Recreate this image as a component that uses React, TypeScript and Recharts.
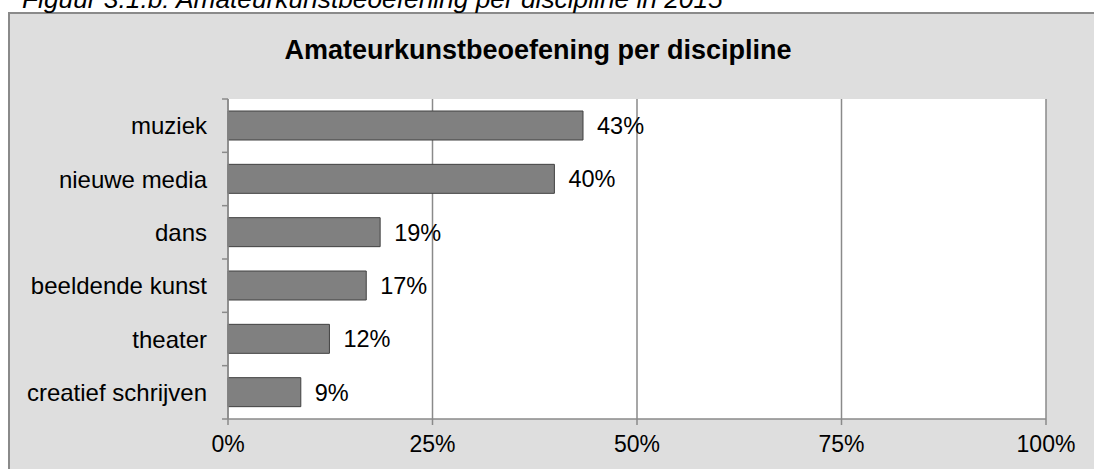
import React from 'react';
import { BarChart, Bar, XAxis, YAxis, CartesianGrid, LabelList } from 'recharts';

const categories = ['muziek', 'nieuwe media', 'dans', 'beeldende kunst', 'theater', 'creatief schrijven'];
const values = [43.4, 39.9, 18.6, 16.9, 12.4, 8.9];
const xTicks = [0, 25, 50, 75, 100];
const caption = 'Figuur 3.1.b: Amateurkunstbeoefening per discipline in 2015';
const title = 'Amateurkunstbeoefening per discipline';

const data = categories.map((name, i) => ({ name, value: values[i] }));

const FONT = '"Liberation Sans", Arial, sans-serif';
const CHART_W = 1086;
const CHART_H = 456;
const MARGIN = { top: 86, right: 48, bottom: 0, left: 0 };
const Y_W = 220;
const X_H = 50;
const PLOT_H = CHART_H - MARGIN.top - MARGIN.bottom - X_H;
const BAND = PLOT_H / categories.length;
const TICK_SIZE = 6;
const TICK_MARGIN = 15;
const AXIS_COLOR = '#8a8a8a';

const YTick = (props: any) => {
  const { x, y, payload, index } = props;
  const axisX = x + TICK_MARGIN + TICK_SIZE;
  const half = BAND / 2;
  return (
    <g>
      <text x={x} y={y} dy="0.355em" textAnchor="end" fill="#000" fontSize={24} fontFamily={FONT}>
        {payload.value}
      </text>
      <line x1={axisX - TICK_SIZE} x2={axisX} y1={y - half} y2={y - half} stroke={AXIS_COLOR} strokeWidth={1.5} />
      {index === categories.length - 1 && (
        <line x1={axisX - TICK_SIZE} x2={axisX} y1={y + half} y2={y + half} stroke={AXIS_COLOR} strokeWidth={1.5} />
      )}
    </g>
  );
};

export default function App() {
  return (
    <div style={{ position: 'fixed', left: 0, top: 0, width: 1094, height: 469, overflow: 'hidden', background: '#fff' }}>
      <svg width={1094} height={469} style={{ position: 'absolute', left: 0, top: 0 }}>
        <rect x={9} y={13} width={1100} height={470} fill="#dedede" stroke={AXIS_COLOR} strokeWidth={2} />
        <text x={22} y={8} fontSize={26.3} fontStyle="italic" fontFamily={FONT} fill="#000">
          {caption}
        </text>
        <text x={538} y={59} fontSize={27} fontWeight="bold" textAnchor="middle" fontFamily={FONT} fill="#000">
          {title}
        </text>
      </svg>
      <div style={{ position: 'absolute', left: 8, top: 13 }}>
        <BarChart width={CHART_W} height={CHART_H} data={data} layout="vertical" margin={MARGIN}>
          <CartesianGrid horizontal={false} vertical={true} stroke={AXIS_COLOR} strokeWidth={1.5} fill="#fff" />
          <XAxis
            type="number"
            domain={[0, 100]}
            ticks={xTicks}
            interval={0}
            height={X_H}
            tickFormatter={(v: number) => `${v}%`}
            axisLine={{ stroke: AXIS_COLOR, strokeWidth: 1.5 }}
            tickLine={{ stroke: AXIS_COLOR, strokeWidth: 1.5 }}
            tickSize={TICK_SIZE}
            tickMargin={11}
            tick={{ fill: '#000', fontSize: 23, fontFamily: FONT }}
          />
          <YAxis
            type="category"
            dataKey="name"
            width={Y_W}
            interval={0}
            axisLine={{ stroke: AXIS_COLOR, strokeWidth: 1.5 }}
            tickLine={false}
            tickSize={TICK_SIZE}
            tickMargin={TICK_MARGIN}
            tick={<YTick />}
          />
          <Bar dataKey="value" fill="#808080" stroke="#404040" strokeWidth={1} barSize={29} isAnimationActive={false}>
            <LabelList
              dataKey="value"
              position="right"
              offset={14}
              formatter={(v: number) => `${Math.round(v)}%`}
              fill="#000"
              fontSize={23.5}
              fontFamily={FONT}
            />
          </Bar>
        </BarChart>
      </div>
    </div>
  );
}
